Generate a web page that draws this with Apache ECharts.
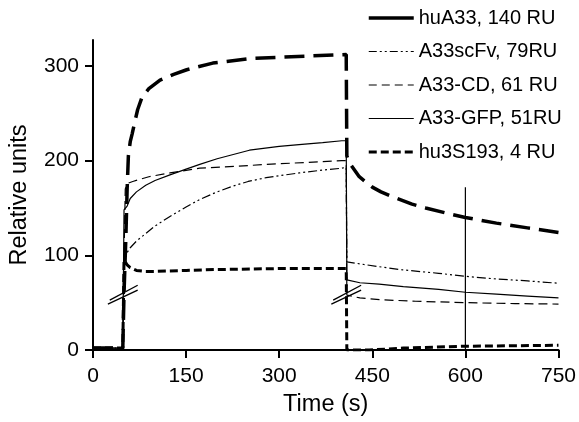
<!DOCTYPE html>
<html>
<head>
<meta charset="utf-8">
<script src="https://cdn.jsdelivr.net/npm/echarts@6/dist/echarts.min.js"></script>
<style>
html,body{margin:0;padding:0;background:#fff;}
#chart{width:579px;height:422px;}
</style>
</head>
<body>
<div id="chart"></div>
<script>
// ---- data (time s, relative units) ----
const seriesNames = ['huA33, 140 RU', 'A33scFv, 79RU', 'A33-CD, 61 RU', 'A33-GFP, 51RU', 'hu3S193, 4 RU'];
const xTicks = [0, 150, 300, 450, 600, 750];
const yTicks = [0, 100, 200, 300];

const huA33 = [[0,2],[48,2],[50,60],[53,120],[55,170],[57,205],[60,220],[63,228],[67,240],[72,254],[79,267],[90,276],[108,285],[130,291],[151,296],[193,303],[257,308],[330,310],[408,312],
  [409,205],[415,196],[429,183],[450,172],[464,167],[482,162],[514,154],[536,150],[573,144],[600,140],[650,134],[700,129],[750,124]];
const a33scFv = [[0,2],[48,2],[50,100],[55,103],[60,108],[70,115],[85,123],[100,131],[124,141],[150,151],[172,159],[200,167],[225,173],[250,178],[279,182],[300,184],[332,187],[370,190],[401,192],[408,193],
  [409,93],[461,88],[493,85],[557,81],[597,78],[650,75],[700,73],[750,70.5]];
const a33CD = [[0,2],[48,2],[50,100],[52,170],[56,176],[64,178],[90,183],[124,187],[172,192],[230,194],[279,196],[340,198],[401,200],[408,200],
  [409,58],[430,55],[466,53],[520,51.5],[600,50],[680,49],[750,48.5]];
const a33GFP = [[0,2],[48,2],[50,148],[55,152],[60,160],[70,167],[85,174],[100,179],[124,185],[150,191],[172,196],[200,202],[252,211],[300,215],[332,217],[370,219],[401,221],[408,221],
  [409,74],[430,71],[461,69.5],[500,67],[557,64],[600,61],[650,59],[700,57],[750,55]];
const hu3S193 = [[0,2],[48,2],[50,95],[55,90],[60,87],[70,84],[85,83],[100,83],[150,84],[200,85],[300,86],[408,86],
  [409,0],[445,0],[500,2],[600,4],[680,4.5],[750,5]];
const cursorLine = [[600,0],[600,172]];
const breakMarks = [
  [[27,52.6],[72,68.4]], [[24,48.4],[72,63.2]],
  [[387,52.6],[432,68.4]], [[384,48.4],[432,63.2]]
];

const styles = [
  {width:3.5, type:[20,9]},
  {width:1.2, type:[9,3,2,3,2,3]},
  {width:1.2, type:[9,5]},
  {width:1.2, type:'solid'},
  {width:3, type:[8,4]}
];
const legendStyles = [
  {width:3.5, type:'solid'},
  {width:1.2, type:[8,3,2,3,2,3]},
  {width:1.2, type:[8,5]},
  {width:1.2, type:'solid'},
  {width:3, type:[8,4]}
];
const datasets = [huA33, a33scFv, a33CD, a33GFP, hu3S193];

const chart = echarts.init(document.getElementById('chart'), null, {renderer:'canvas'});
const font = 'Liberation Sans, Arial, Helvetica, sans-serif';

const series = datasets.map((d, i) => ({
  name: seriesNames[i],
  type: 'line',
  data: d,
  symbol: 'none',
  smooth: false,
  lineStyle: {color:'#000', width: styles[i].width, type: styles[i].type, cap:'butt'},
  itemStyle: {color:'#000'},
  z: 3
}));
series.push({
  name: 'cursor', type: 'line', data: cursorLine, symbol: 'none',
  lineStyle: {color:'#000', width: 1.2}, z: 2
});
series.push({
  name: 'breaks', type: 'lines', coordinateSystem: 'cartesian2d',
  data: breakMarks.map(c => ({coords: c})),
  lineStyle: {color:'#000', width: 1.3, opacity: 1}, z: 4
});

chart.setOption({
  animation: false,
  backgroundColor: '#fff',
  grid: {left: 93, right: 19, top: 40, bottom: 71, containLabel: false},
  legend: {
    orient: 'vertical', left: 367, top: 8, padding: 0,
    itemWidth: 45, itemHeight: 20, itemGap: 13.5,
    data: seriesNames.map((n, i) => ({name: n, lineStyle: {color:'#000', width: legendStyles[i].width, type: legendStyles[i].type}})),
    itemStyle: {opacity: 0},
    textStyle: {fontFamily: font, fontSize: 20, color: '#000'},
    selectedMode: false
  },
  xAxis: {
    type: 'value', min: 0, max: 750, interval: 150,
    name: 'Time (s)', nameLocation: 'middle', nameGap: 43,
    nameTextStyle: {fontFamily: font, fontSize: 23.5, color: '#000'},
    axisLine: {show: true, onZero: false, lineStyle: {color:'#000', width: 2}},
    axisTick: {show: true, length: 8, lineStyle: {color:'#000', width: 2}},
    axisLabel: {fontFamily: font, fontSize: 21, color: '#000', margin: 16,
      customValues: xTicks},
    splitLine: {show: false}
  },
  yAxis: {
    type: 'value', min: 0, max: 327.4,
    name: 'Relative units', nameLocation: 'middle', nameGap: 61,
    nameTextStyle: {fontFamily: font, fontSize: 23.5, color: '#000'},
    axisLine: {show: true, onZero: false, lineStyle: {color:'#000', width: 2}},
    axisTick: {show: true, length: 8, lineStyle: {color:'#000', width: 2}, customValues: yTicks},
    axisLabel: {fontFamily: font, fontSize: 21, color: '#000', margin: 14, customValues: yTicks},
    splitLine: {show: false}
  },
  series: series
});
</script>
</body>
</html>
